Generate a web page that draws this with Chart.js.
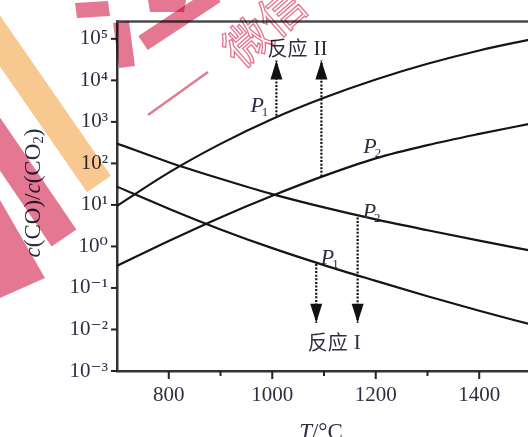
<!DOCTYPE html>
<html><head><meta charset="utf-8">
<script src="https://cdn.jsdelivr.net/npm/chart.js@4.4.0/dist/chart.umd.min.js"></script>
<style>
html,body{margin:0;padding:0;overflow:hidden;background:#fff;width:528px;height:437px}
#wrap{position:relative;width:540px;height:437px}
</style>
</head><body><div id="wrap"><canvas id="c" width="540" height="437"></canvas></div>
<script>
// ---- data ----
const temperatures   = [700, 800, 900, 1000, 1100, 1200, 1300, 1400, 1500];
const reactionII_P1  = [9.5, 60, 295, 1175, 3800, 10500, 25100, 52500, 97700];
const reactionII_P2  = [0.34, 1.35, 5.0, 16.6, 50, 132, 275, 513, 912];
const reactionI_P2   = [302, 107, 42.7, 18.2, 8.7, 4.47, 2.45, 1.38, 0.79];
const reactionI_P1   = [27.5, 8.1, 2.57, 0.91, 0.355, 0.148, 0.063, 0.0282, 0.0132];
const xTickLabels    = [800, 1000, 1200, 1400];
const xMinorTicks    = [900, 1100, 1300];
const yTickExponents = [-3, -2, -1, 0, 1, 2, 3, 4, 5];
const arrowTemps     = [1008, 1095, 1085, 1165];
const arrowFrom      = [1400, 48.5, 0.38, 5.0];
const arrowTo        = [30000, 30000, 0.0145, 0.0145];
// annotation texts anchored in data coordinates
const pLabels = [
  {t: 977,  v: 2600, sub: '1'},
  {t: 1195, v: 263,  sub: '2'},
  {t: 1194, v: 7.2,  sub: '2'},
  {t: 1113, v: 0.557, sub: '1'}
];
const reactionLabels = [
  {t: 1049, v: 58000, roman: 'II'},
  {t: 1120, v: 0.0049, roman: 'I'}
];

const SUP = {'-':'⁻','0':'⁰','1':'¹','2':'²','3':'³','4':'⁴','5':'⁵','6':'⁶','7':'⁷','8':'⁸','9':'⁹'};
const sup = n => String(n).split('').map(ch => SUP[ch]).join('');
const TXT = '#2e2e42';
const SERIF = '"Liberation Serif", "DejaVu Serif", serif';
const CJK = '"Noto Sans CJK SC", sans-serif';

const curve = (vals) => temperatures.map((t, i) => ({x: t, y: vals[i]}));
const lineStyle = {borderColor: '#151515', borderWidth: 2.2, pointRadius: 0, fill: false, cubicInterpolationMode: 'monotone'};

const datasets = [
  Object.assign({label: '反应II P1', data: curve(reactionII_P1)}, lineStyle),
  Object.assign({label: '反应II P2', data: curve(reactionII_P2)}, lineStyle),
  Object.assign({label: '反应I P2', data: curve(reactionI_P2)}, lineStyle),
  Object.assign({label: '反应I P1', data: curve(reactionI_P1)}, lineStyle)
];
arrowTemps.forEach((t, i) => {
  datasets.push({label: 'arrow' + i, data: [{x: t, y: arrowFrom[i]}, {x: t, y: arrowTo[i]}],
    borderColor: '#111', borderWidth: 2.2, borderDash: [2, 1.6], pointRadius: 0, fill: false});
});

function band(ctx, x1, y1, x2, y2, w, color) {
  ctx.strokeStyle = color; ctx.lineWidth = w; ctx.lineCap = 'butt';
  ctx.beginPath(); ctx.moveTo(x1, y1); ctx.lineTo(x2, y2); ctx.stroke();
}
function poly(ctx, pts, color) {
  ctx.fillStyle = color; ctx.beginPath();
  pts.forEach((p, i) => i ? ctx.lineTo(p[0], p[1]) : ctx.moveTo(p[0], p[1]));
  ctx.closePath(); ctx.fill();
}

const decor = {
  id: 'decor',
  afterDraw(chart) {
    const ctx = chart.ctx, a = chart.chartArea;
    const xs = chart.scales.x, ys = chart.scales.y;
    ctx.save();
    // top frame line
    ctx.strokeStyle = '#4a4a4a'; ctx.lineWidth = 2.5;
    ctx.beginPath(); ctx.moveTo(a.left - 1, a.top); ctx.lineTo(a.right + 5, a.top); ctx.stroke();
    // y ticks (outward)
    ctx.strokeStyle = '#222'; ctx.lineWidth = 2;
    yTickExponents.forEach(e => {
      const y = ys.getPixelForValue(Math.pow(10, e));
      ctx.beginPath(); ctx.moveTo(a.left - 6, y); ctx.lineTo(a.left, y); ctx.stroke();
    });
    // x ticks (outward)
    xTickLabels.forEach(v => {
      const x = xs.getPixelForValue(v);
      ctx.beginPath(); ctx.moveTo(x, a.bottom); ctx.lineTo(x, a.bottom + 8); ctx.stroke();
    });
    xMinorTicks.forEach(v => {
      const x = xs.getPixelForValue(v);
      ctx.beginPath(); ctx.moveTo(x, a.bottom); ctx.lineTo(x, a.bottom + 5); ctx.stroke();
    });
    // arrowheads
    ctx.fillStyle = '#111';
    arrowTemps.forEach((t, i) => {
      const x = xs.getPixelForValue(t), yTip = ys.getPixelForValue(arrowTo[i]);
      const dir = arrowTo[i] > arrowFrom[i] ? 1 : -1; // up or down
      ctx.beginPath();
      ctx.moveTo(x, yTip);
      ctx.lineTo(x - 6, yTip + dir * 19);
      ctx.lineTo(x + 6, yTip + dir * 19);
      ctx.closePath(); ctx.fill();
    });
    // P labels
    ctx.fillStyle = TXT; ctx.textBaseline = 'alphabetic';
    pLabels.forEach(p => {
      const x = xs.getPixelForValue(p.t), y = ys.getPixelForValue(p.v);
      ctx.font = 'italic 22px ' + SERIF;
      const w1 = ctx.measureText('P').width;
      ctx.font = '13px ' + SERIF;
      const w2 = ctx.measureText(p.sub).width;
      const x0 = x - (w1 + w2) / 2;
      ctx.font = 'italic 22px ' + SERIF;
      ctx.textAlign = 'left';
      ctx.fillText('P', x0, y + 7);
      ctx.font = '13px ' + SERIF;
      ctx.fillText(p.sub, x0 + w1 - 2, y + 11);
    });
    // reaction labels
    reactionLabels.forEach(r => {
      const x = xs.getPixelForValue(r.t), y = ys.getPixelForValue(r.v);
      ctx.font = '20px ' + CJK;
      const w1 = ctx.measureText('反应').width;
      ctx.font = '21px ' + SERIF;
      const w2 = ctx.measureText(r.roman).width;
      const gap = 6;
      const x0 = x - (w1 + gap + w2) / 2;
      ctx.textAlign = 'left'; ctx.textBaseline = 'middle';
      ctx.font = '20px ' + CJK; ctx.fillText('反应', x0, y);
      ctx.font = '21px ' + SERIF; ctx.fillText(r.roman, x0 + w1 + gap, y + 1);
    });
    // y axis title
    ctx.save();
    ctx.translate(34, 193); ctx.rotate(-Math.PI / 2);
    const parts = [['c', 'italic 23px '], ['(CO)/', '23px '], ['c', 'italic 23px '], ['(CO', '23px '], ['2', '15px ', 5], [')', '23px ']];
    let tw = 0;
    parts.forEach(p => { ctx.font = p[1] + SERIF; tw += ctx.measureText(p[0]).width; });
    let cx = -tw / 2;
    ctx.textAlign = 'left'; ctx.textBaseline = 'middle'; ctx.fillStyle = TXT;
    parts.forEach(p => { ctx.font = p[1] + SERIF; ctx.fillText(p[0], cx, p[2] || 0); cx += ctx.measureText(p[0]).width; });
    ctx.restore();
    // x axis title
    ctx.textBaseline = 'alphabetic'; ctx.textAlign = 'left';
    ctx.font = 'italic 23px ' + SERIF;
    const wT = ctx.measureText('T').width;
    ctx.font = '23px ' + SERIF;
    const wR = ctx.measureText('/°C').width;
    const xt = 321 - (wT + wR) / 2;
    ctx.font = 'italic 23px ' + SERIF; ctx.fillText('T', xt, 439);
    ctx.font = '23px ' + SERIF; ctx.fillText('/°C', xt + wT, 439);

    // watermark (decorative overlay)
    ctx.globalCompositeOperation = 'multiply';
    const pink = '#e47893', orange = '#f8c891';
    band(ctx, -20, 12, 99, 184, 29, orange);
    band(ctx, -22, 112, 64, 238, 30, pink);
    poly(ctx, [[0, 200], [45, 278], [0, 298]], pink);
    poly(ctx, [[75, 3], [108, 1], [110, 16], [77, 18]], pink);
    band(ctx, 121, 22, 127, 67, 16, pink);
    band(ctx, 143, 43, 216, -5, 17, pink);
    poly(ctx, [[148, 0], [186, 0], [184, 12], [150, 12]], pink);
    band(ctx, 148, 115, 208, 72, 2.5, pink);
    ctx.save();
    ctx.translate(264, 26); ctx.rotate(-0.72);
    ctx.font = '46px ' + CJK; ctx.textAlign = 'center'; ctx.textBaseline = 'middle';
    ctx.strokeStyle = pink; ctx.lineWidth = 1.4;
    ctx.strokeText('微信', 0, 0);
    ctx.restore();
    ctx.restore();
  }
};

new Chart(document.getElementById('c'), {
  type: 'line',
  data: {datasets},
  plugins: [decor],
  options: {
    responsive: false,
    animation: false,
    events: [],
    layout: {padding: {top: 15, right: 9, left: 0, bottom: 0}},
    plugins: {legend: {display: false}, tooltip: {enabled: false}},
    scales: {
      x: {
        type: 'linear', min: 700, max: 1500,
        afterBuildTicks: s => { s.ticks = xTickLabels.map(v => ({value: v})); },
        afterFit: s => { s.height = 66; },
        grid: {display: false, drawTicks: false},
        border: {display: true, width: 2.5, color: '#333'},
        ticks: {padding: 12, color: TXT, font: {family: SERIF, size: 21}, maxRotation: 0,
          callback: v => String(v)}
      },
      y: {
        type: 'logarithmic', min: 1e-3, max: 2.6e5,
        afterBuildTicks: s => { s.ticks = yTickExponents.map(e => ({value: Math.pow(10, e)})); },
        afterFit: s => { s.width = 117; },
        grid: {display: false, drawTicks: false},
        border: {display: true, width: 2.5, color: '#333'},
        ticks: {padding: 9, color: TXT, font: {family: SERIF, size: 21},
          callback: v => '10' + sup(Math.round(Math.log10(v)))}
      }
    }
  }
});
</script>
</body></html>
